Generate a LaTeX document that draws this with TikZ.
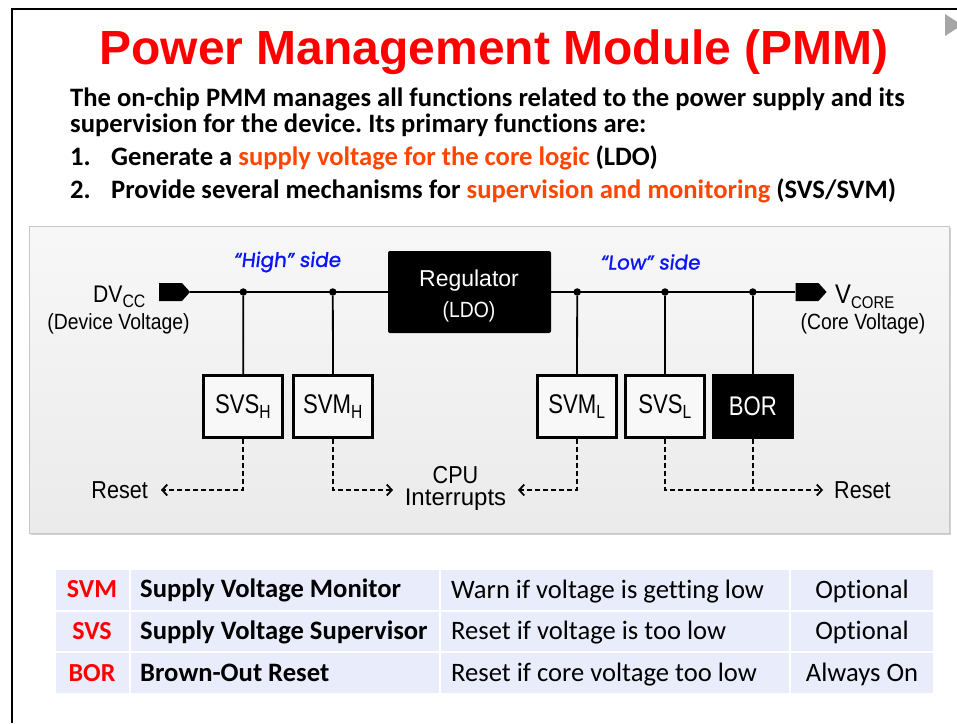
\documentclass[tikz,border=0pt]{standalone}
\usepackage{fontspec}
\setmainfont{Liberation Sans}
\newfontfamily\carlfont[Ligatures=NoCommon]{Carlito}
\newfontfamily\narfont[FakeStretch=0.88]{Liberation Sans}
\newfontfamily\narrfont[FakeStretch=0.82]{Liberation Sans}
\newfontfamily\handfont[FakeBold=1.2,FakeSlant=0.12]{Poppins}
\usetikzlibrary{arrows.meta,shapes.symbols}
\frenchspacing
\definecolor{hot}{RGB}{255,70,0}
\definecolor{tred}{RGB}{255,0,0}
\definecolor{hblue}{RGB}{10,20,250}
\definecolor{tbl}{RGB}{232,236,251}
\definecolor{boxfill}{RGB}{248,248,248}
\tikzset{
  sbox/.style={draw=black, line width=2.6pt, fill=boxfill, minimum width=79pt, minimum height=62pt, inner sep=0pt,
    font=\narrfont\fontsize{27}{27}\selectfont},
  wire/.style={line width=1.8pt},
  dline/.style={line width=1.8pt, dash pattern=on 5pt off 3pt},
  sig/.style={dline, -{Straight Barb[length=5pt,width=11pt,line width=1.8pt]}},
  jdot/.style={circle, fill=black, inner sep=0pt, minimum size=7.5pt},
  tag/.style={signal, signal to=east, signal pointer angle=96, fill=black, minimum width=31pt, minimum height=18pt, inner sep=0pt},
  lbl/.style={inner sep=0pt, font=\narfont\fontsize{24.5}{26}\selectfont},
  small/.style={inner sep=0pt, font=\narfont\fontsize{22}{24}\selectfont},
  hnd/.style={inner sep=0pt, text=hblue, font=\handfont\fontsize{20}{22}\selectfont},
  body/.style={inner sep=0pt, anchor=base west, font=\carlfont\bfseries\fontsize{26.6}{28}\selectfont},
  cell/.style={fill=tbl, draw=white, line width=2pt},
  tcell/.style={inner sep=0pt, font=\carlfont\fontsize{26.6}{28}\selectfont},
  tbold/.style={tcell, font=\carlfont\bfseries\fontsize{26.6}{28}\selectfont},
  tabbr/.style={tcell, text=tred, font=\carlfont\bfseries\fontsize{26}{28}\selectfont},
}
\begin{document}
\begin{tikzpicture}[x=1pt,y=-1pt]
\useasboundingbox (0,0) rectangle (957,723);
\fill[white] (0,0) rectangle (957,723);
% frame
\draw[line width=2.2pt] (12,723) -- (12,9) -- (957,9);
\fill[black!35] (945,14) -- (957,21.8) -- (957,28.2) -- (945,36) -- cycle;
% title
\node[anchor=base, inner sep=0pt, text=tred, font=\bfseries\fontsize{48}{48}\selectfont] (title) at (494,64) {Power Management Module (PMM)};
% body text
\node[body] (l1) at (70,106) {The on-chip PMM manages all functions related to the power supply and its};
\node[body] (l2) at (70,132) {supervision for the device. Its primary functions are:};
\node[body] (n1) at (70,165) {1.};
\node[body] (i1) at (111,165) {Generate a \textcolor{hot}{supply voltage for the core logic} (LDO)};
\node[body] (n2) at (70,198) {2.};
\node[body] (i2) at (111,198) {Provide several mechanisms for \textcolor{hot}{supervision and monitoring} (SVS/SVM)};
% panel
\fill[black!18] (31,228) rectangle (951,535);
\shade[top color=white!97!black, bottom color=white!92!black, draw=black!22, line width=1pt] (29,226) rectangle (949,533);
% regulator
\node[fill=black, rounded corners=2pt, minimum width=163pt, minimum height=82pt, inner sep=0pt] (reg) at (469.5,292) {};
\node[anchor=base, inner sep=0pt, text=white, font=\fontsize{23}{25}\selectfont] (regt) at (469,286.5) {Regulator};
\node[anchor=base, inner sep=0pt, text=white, font=\narfont\fontsize{22}{24}\selectfont] (ldo) at (469,317) {(LDO)};
% tags
\node[tag] (dvtag) at (170.5,292) {};
\node[tag] (vtag) at (807,292) {};
% junction dots
\node[jdot] (j1) at (243.3,292) {};
\node[jdot] (j2) at (332.8,292) {};
\node[jdot] (j3) at (577.2,292) {};
\node[jdot] (j4) at (665,292) {};
\node[jdot] (j5) at (752.8,292) {};
% wires
\draw[wire] (dvtag.east) -- (reg.west);
\draw[wire] (reg.east) -- (vtag.west);
% boxes
\node[sbox] (svsh) at (243.2,406.5) {SVS\textsubscript{\fontsize{19}{19}\selectfont H}};
\node[sbox] (svmh) at (333,406.5) {SVM\textsubscript{\fontsize{19}{19}\selectfont H}};
\node[sbox] (svml) at (577,406.5) {SVM\textsubscript{\fontsize{19}{19}\selectfont L}};
\node[sbox] (svsl) at (665,406.5) {SVS\textsubscript{\fontsize{19}{19}\selectfont L}};
\node[sbox, fill=black, text=white] (bor) at (752.8,406.5) {BOR};
\draw[wire] (j1) -- (svsh.north);
\draw[wire] (j2) -- (svmh.north);
\draw[wire] (j3) -- (svml.north);
\draw[wire] (j4) -- (svsl.north);
\draw[wire] (j5) -- (bor.north);
% labels
\node[anchor=base west, inner sep=0pt, font=\narfont\fontsize{24}{24}\selectfont] (dv) at (93,302) {DV\raisebox{-5.5pt}{\fontsize{18}{19}\selectfont CC}};
\node[small] (dvl) at (118.5,324) {(Device Voltage)};
\node[anchor=base west, inner sep=0pt, font=\narfont\fontsize{27}{27}\selectfont] (vc) at (835,303.5) {V\raisebox{-5pt}{\fontsize{17}{19}\selectfont CORE}};
\node[small] (vcl) at (863,324) {(Core Voltage)};
\node[hnd] (hs) at (287,262) {\char"201C High\char"201D\ side};
\node[hnd] (ls) at (650,262) {\char"201C Low\char"201D\ side};
% signal targets
\coordinate (rl) at (161,490);
\coordinate (cl) at (393,490);
\coordinate (cr) at (518,490);
\coordinate (rr) at (823,490);
\draw[sig] (svsh.south) |- (rl);
\draw[sig] (svmh.south) |- (cl);
\draw[sig] (svml.south) |- (cr);
\draw[sig] (svsl.south) |- (rr);
\draw[dline] (bor.south) -- (bor.south |- rr);
\node[lbl, anchor=east] (resl) at (148,490.5) {Reset};
\node[lbl] (cpu) at (455.5,475) {CPU};
\node[inner sep=0pt, font=\fontsize{24}{26}\selectfont] (intr) at (455.5,500) {Interrupts};
\node[lbl, anchor=west] (resr) at (834,490.5) {Reset};
% table
\path[cell] (55,569) rectangle (129.5,610.5);
\path[cell] (129.5,569) rectangle (440,610.5);
\path[cell] (440,569) rectangle (790,610.5);
\path[cell] (790,569) rectangle (934,610.5);
\path[cell] (55,610.5) rectangle (129.5,652);
\path[cell] (129.5,610.5) rectangle (440,652);
\path[cell] (440,610.5) rectangle (790,652);
\path[cell] (790,610.5) rectangle (934,652);
\path[cell] (55,652) rectangle (129.5,694);
\path[cell] (129.5,652) rectangle (440,694);
\path[cell] (440,652) rectangle (790,694);
\path[cell] (790,652) rectangle (934,694);
\node[tabbr] (a1) at (92,589.5) {SVM};
\node[tabbr] (a2) at (92,631) {SVS};
\node[tabbr] (a3) at (92,673) {BOR};
\node[tbold, anchor=base west] (b1) at (140,597.5) {Supply Voltage Monitor};
\node[tbold, anchor=base west] (b2) at (140,639) {Supply Voltage Supervisor};
\node[tbold, anchor=base west] (b3) at (140,681) {Brown-Out Reset};
\node[tcell, anchor=base west] (c1) at (451,598.5) {Warn if voltage is getting low};
\node[tcell, anchor=base west] (c2) at (451,639) {Reset if voltage is too low};
\node[tcell, anchor=base west] (c3) at (451,681) {Reset if core voltage too low};
\node[tcell, anchor=base] (d1) at (862,598.5) {Optional};
\node[tcell, anchor=base] (d2) at (862,639) {Optional};
\node[tcell, anchor=base] (d3) at (862,681) {Always On};
\end{tikzpicture}
\end{document}
